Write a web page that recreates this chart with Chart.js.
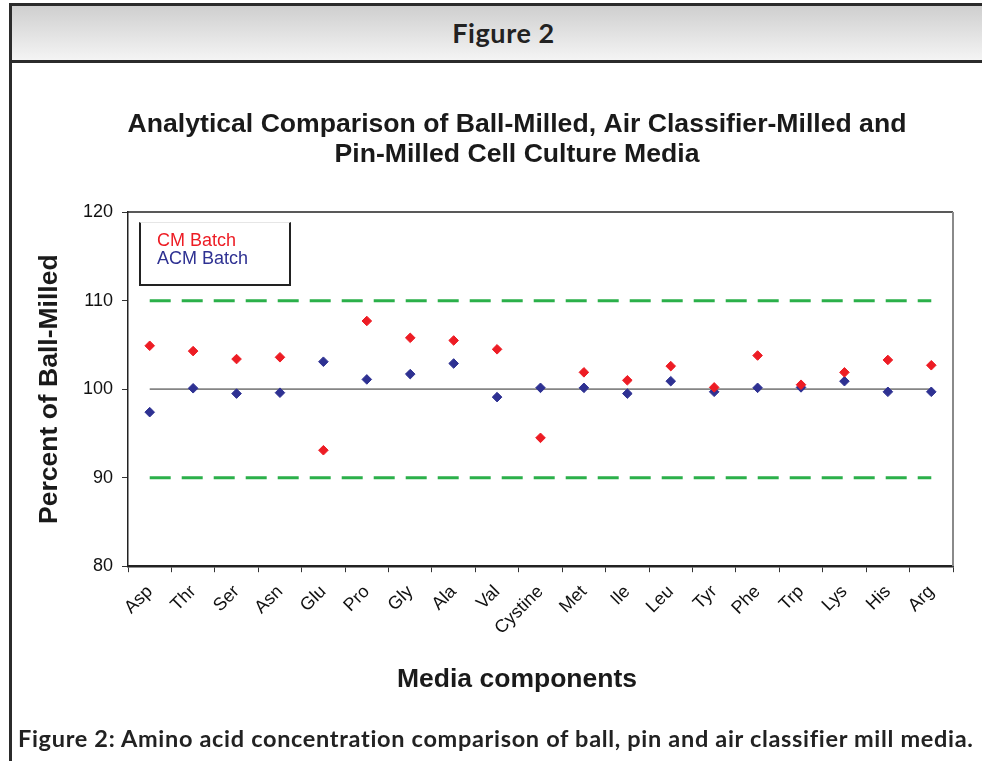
<!DOCTYPE html>
<html lang="en">
<head>
<meta charset="UTF-8">
<title>Figure 2</title>
<script src="https://cdn.jsdelivr.net/npm/chart.js@4.4.0/dist/chart.umd.js"></script>
<style>
  * { margin: 0; padding: 0; box-sizing: border-box; }
  html, body { width: 982px; height: 761px; overflow: hidden; background: #fff; }
  body { position: relative; font-family: 'Liberation Sans', Arial, sans-serif; color: #1a1a1a; }

  .frame {
    position: absolute; left: 9px; top: 3px; width: 990px; height: 800px;
    border-left: 3px solid #2b2b2b; border-top: 3px solid #2b2b2b;
  }
  .header {
    height: 57px; padding-left: 10px; width: 973px;
    background: linear-gradient(#cfcfcf, #f4f4f4);
    border-bottom: 3px solid #2b2b2b;
    font-family: Lato, 'Open Sans', sans-serif; font-weight: 700; font-size: 27px;
    letter-spacing: 0.6px; line-height: 54px; text-align: center; color: #222;
  }
  canvas { position: absolute; left: 0; top: 0; }

  .legend {
    position: absolute; left: 139px; top: 222px; width: 152px; height: 64px;
    border: 2px solid #222; border-top: 1px solid #e6e6e6;
    padding: 8px 0 0 16px; font-size: 18px; line-height: 18px;
  }
  .legend .cm { color: #ed1c24; }
  .legend .acm { color: #2e3192; }

  .caption {
    position: absolute; left: 18px; top: 723px;
    font-family: Lato, 'Open Sans', sans-serif; font-weight: 700; font-size: 23.5px;
    letter-spacing: 0.68px; line-height: 30px; color: #222; white-space: nowrap;
  }
</style>
</head>
<body>
  <div class="frame"><div class="header">Figure 2</div></div>
  <canvas id="chart" width="982" height="761"></canvas>
  <div class="legend"><div class="cm">CM Batch</div><div class="acm">ACM Batch</div></div>
  <div class="caption">Figure 2: Amino acid concentration comparison of ball, pin and air classifier mill media.</div>

<script>
const categories = ['Asp', 'Thr', 'Ser', 'Asn', 'Glu', 'Pro', 'Gly', 'Ala', 'Val', 'Cystine',
  'Met', 'Ile', 'Leu', 'Tyr', 'Phe', 'Trp', 'Lys', 'His', 'Arg'];
const cmBatch = [104.9, 104.3, 103.4, 103.6, 93.1, 107.7, 105.8, 105.5, 104.5, 94.5,
  101.9, 101.0, 102.6, 100.2, 103.8, 100.5, 101.9, 103.3, 102.7];
const acmBatch = [97.4, 100.1, 99.5, 99.6, 103.1, 101.1, 101.7, 102.9, 99.1, 100.15,
  100.15, 99.5, 100.9, 99.7, 100.15, 100.2, 100.9, 99.7, 99.7];
const yTicks = [80, 90, 100, 110, 120];
const limitLevels = [110, 90];
const targetLevel = 100;

const sans = "'Liberation Sans', Arial, sans-serif";

// reference lines run from the first to the last category
function span(value) {
  return [{ x: categories[0], y: value }, { x: categories[categories.length - 1], y: value }];
}

const limitDatasets = limitLevels.map(v => ({
  type: 'line',
  data: span(v),
  borderColor: '#2bb04a',
  borderWidth: 3,
  borderDash: [21, 11],
  pointRadius: 0,
  order: 3
}));

const plotFrame = {
  id: 'plotFrame',
  beforeDatasetsDraw(chart) {
    const { ctx, chartArea: a } = chart;
    ctx.save();
    ctx.strokeStyle = '#222';
    ctx.lineWidth = 1.5;
    ctx.beginPath();
    ctx.moveTo(a.left, a.top);
    ctx.lineTo(a.right, a.top);
    ctx.stroke();
    ctx.strokeStyle = '#8a8a8a';
    ctx.lineWidth = 2;
    ctx.beginPath();
    ctx.moveTo(a.right, a.top);
    ctx.lineTo(a.right, a.bottom);
    ctx.stroke();
    ctx.restore();
  }
};

new Chart(document.getElementById('chart'), {
  type: 'line',
  data: {
    labels: categories,
    datasets: [
      {
        label: 'CM Batch',
        data: cmBatch,
        showLine: false,
        pointStyle: 'rectRot',
        pointRadius: 4.8,
        pointBackgroundColor: '#ed1c24',
        pointBorderColor: '#ed1c24',
        pointBorderWidth: 1,
        order: 1
      },
      {
        label: 'ACM Batch',
        data: acmBatch,
        showLine: false,
        pointStyle: 'rectRot',
        pointRadius: 4.8,
        pointBackgroundColor: '#2e3192',
        pointBorderColor: '#2e3192',
        pointBorderWidth: 1,
        order: 2
      },
      {
        type: 'line',
        data: span(targetLevel),
        borderColor: '#858585',
        borderWidth: 1.6,
        pointRadius: 0,
        order: 4
      },
      ...limitDatasets
    ]
  },
  options: {
    responsive: false,
    animation: false,
    devicePixelRatio: 1,
    layout: { padding: { left: 81, right: 29, top: 0, bottom: 65 } },
    plugins: {
      legend: { display: false },
      tooltip: { enabled: false },
      title: {
        display: true,
        text: ['Analytical Comparison of Ball-Milled, Air Classifier-Milled and',
               'Pin-Milled Cell Culture Media'],
        font: { family: sans, size: 26.6, weight: 'bold', lineHeight: 1.13 },
        color: '#1a1a1a',
        padding: { top: 110, bottom: 42 }
      },
      subtitle: {
        display: true,
        position: 'bottom',
        text: 'Media components',
        font: { family: sans, size: 26.5, weight: 'bold', lineHeight: 1.2 },
        color: '#1a1a1a',
        padding: { top: 8, bottom: 0 }
      }
    },
    scales: {
      x: {
        type: 'category',
        offset: true,
        grid: { offset: true, drawOnChartArea: false, drawTicks: true, tickLength: 6, color: '#333', lineWidth: 1 },
        border: { color: '#222', width: 2.5 },
        ticks: {
          autoSkip: false,
          minRotation: 45,
          maxRotation: 45,
          padding: 9,
          color: '#111',
          font: { family: sans, size: 18 }
        },
        afterFit(scale) { scale.height = 90; }
      },
      y: {
        min: 80,
        max: 120,
        afterBuildTicks(scale) { scale.ticks = yTicks.map(v => ({ value: v })); },
        grid: { drawOnChartArea: false, drawTicks: true, tickLength: 6, color: '#333', lineWidth: 1 },
        border: { color: '#222', width: 1.5 },
        ticks: {
          padding: 9,
          color: '#111',
          font: { family: sans, size: 18 }
        },
        title: {
          display: true,
          text: 'Percent of Ball-Milled',
          color: '#1a1a1a',
          font: { family: sans, size: 26.5, weight: 'bold', lineHeight: 1.2 },
          padding: { top: -46.9, bottom: 0 }
        },
        afterFit(scale) { scale.width = 47; }
      }
    }
  },
  plugins: [plotFrame]
});
</script>
</body>
</html>
